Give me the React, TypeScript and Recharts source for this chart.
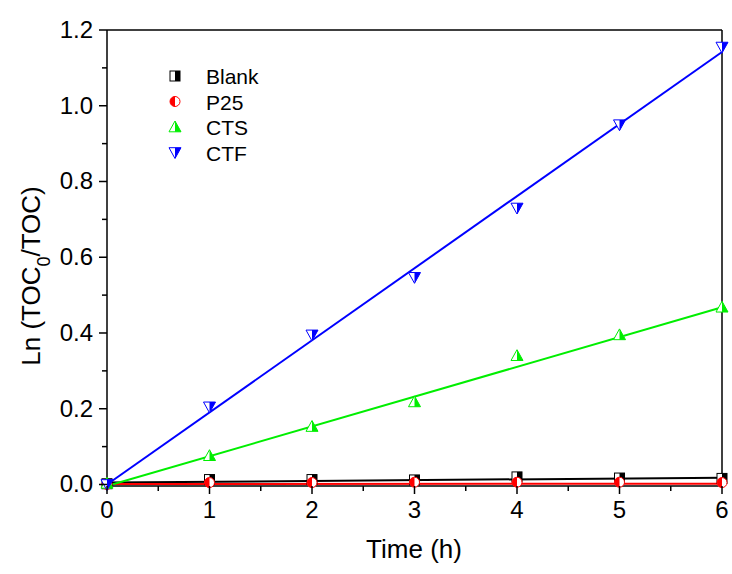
import {
  ComposedChart,
  Line,
  Scatter,
  XAxis,
  YAxis,
  ReferenceLine,
} from "recharts";

const FONT = '"Liberation Sans", Arial, sans-serif';

const time = [0, 1, 2, 3, 4, 5, 6];
const blank = [0.002, 0.013, 0.013, 0.012, 0.02, 0.017, 0.016];
const p25 = [0.0, 0.005, 0.005, 0.006, 0.006, 0.006, 0.005];
const cts = [0.003, 0.076, 0.153, 0.218, 0.34, 0.395, 0.468];
const ctf = [0.0, 0.205, 0.395, 0.547, 0.73, 0.95, 1.155];

// fitted lines, value at t = 0 and t = 6
const fitTime = [0, 6];
const blankFit = [0.005, 0.018];
const p25Fit = [0.001, 0.002];
const ctsFit = [-0.004, 0.468];
const ctfFit = [0.0, 1.142];

const xTicks = [0, 0.5, 1, 1.5, 2, 2.5, 3, 3.5, 4, 4.5, 5, 5.5, 6];
const yTicks = [0, 0.1, 0.2, 0.3, 0.4, 0.5, 0.6, 0.7, 0.8, 0.9, 1.0, 1.1, 1.2];

const toPoints = (xs: number[], ys: number[]) => xs.map((t, i) => ({ t, v: ys[i] }));

const series = [
  { name: "Blank", color: "#000000", kind: "square", points: blank, fit: blankFit },
  { name: "P25", color: "#ff0000", kind: "circle", points: p25, fit: p25Fit },
  { name: "CTS", color: "#00ee00", kind: "up", points: cts, fit: ctsFit },
  { name: "CTF", color: "#0000ff", kind: "down", points: ctf, fit: ctfFit },
];

const Marker = ({ cx, cy, kind, color }: { cx: number; cy: number; kind: string; color: string }) => {
  const s = 5;
  if (kind === "square") {
    return (
      <g>
        <rect x={cx - s} y={cy - s} width={2 * s} height={2 * s} fill="#fff" stroke={color} strokeWidth={1} />
        <rect x={cx} y={cy - s} width={s} height={2 * s} fill={color} />
      </g>
    );
  }
  if (kind === "circle") {
    return (
      <g>
        <circle cx={cx} cy={cy} r={s} fill="#fff" stroke={color} strokeWidth={1} />
        <path d={`M${cx},${cy - s} A${s},${s} 0 0 0 ${cx},${cy + s} Z`} fill={color} />
      </g>
    );
  }
  if (kind === "up") {
    const h = 6;
    return (
      <g>
        <path d={`M${cx},${cy - h} L${cx + h},${cy + h * 0.8} L${cx - h},${cy + h * 0.8} Z`} fill="#fff" stroke={color} strokeWidth={1} />
        <path d={`M${cx},${cy - h} L${cx + h},${cy + h * 0.8} L${cx},${cy + h * 0.8} Z`} fill={color} />
      </g>
    );
  }
  const h = 6;
  return (
    <g>
      <path d={`M${cx - h},${cy - h * 0.8} L${cx + h},${cy - h * 0.8} L${cx},${cy + h} Z`} fill="#fff" stroke={color} strokeWidth={1} />
      <path d={`M${cx},${cy - h * 0.8} L${cx + h},${cy - h * 0.8} L${cx},${cy + h} Z`} fill={color} />
    </g>
  );
};

const XTick = ({ x, y, payload }: any) => {
  const major = Number.isInteger(payload.value);
  return (
    <g>
      <line x1={x} x2={x} y1={y} y2={y + (major ? 8 : 5)} stroke="#000" strokeWidth={1.5} />
      {major && (
        <text x={x} y={y + 32} textAnchor="middle" fontSize={24} fontFamily={FONT} fill="#000">
          {payload.value}
        </text>
      )}
    </g>
  );
};

const YTick = ({ x, y, payload }: any) => {
  const major = Math.round(payload.value * 10) % 2 === 0;
  return (
    <g>
      <line x1={x - (major ? 8 : 5)} x2={x} y1={y} y2={y} stroke="#000" strokeWidth={1.5} />
      {major && (
        <text x={x - 14} y={y + 8} textAnchor="end" fontSize={24} fontFamily={FONT} fill="#000">
          {payload.value.toFixed(1)}
        </text>
      )}
    </g>
  );
};

const LegendBox = () => (
  <g>
    {series.map((s, i) => (
      <g key={s.name}>
        <Marker cx={175} cy={76 + i * 25.5} kind={s.kind} color={s.color} />
        <text x={206} y={84 + i * 25.5} fontSize={21} fontFamily={FONT} fill="#000">
          {s.name}
        </text>
      </g>
    ))}
  </g>
);

export default function App() {
  return (
    <div style={{ position: "absolute", left: 0, top: 0, background: "#fff" }}>
      <ComposedChart width={732} height={574} margin={{ top: 30, right: 10, left: 0, bottom: 0 }}>
        <XAxis
          dataKey="t"
          type="number"
          domain={[0, 6]}
          ticks={xTicks}
          interval={0}
          tickSize={0}
          tickMargin={0}
          tick={<XTick />}
          height={88}
          axisLine={{ stroke: "#000", strokeWidth: 1.5 }}
          allowDuplicatedCategory={false}
        />
        <YAxis
          type="number"
          domain={[0, 1.2]}
          ticks={yTicks}
          interval={0}
          tickSize={0}
          tickMargin={0}
          tick={<YTick />}
          width={107}
          axisLine={{ stroke: "#000", strokeWidth: 1.5 }}
        />
        <ReferenceLine y={1.2} stroke="#000" strokeWidth={1.5} />
        <ReferenceLine x={6} stroke="#000" strokeWidth={1.5} />
        {series.map((s) => (
          <Line
            key={s.name + "-fit"}
            data={toPoints(fitTime, s.fit)}
            dataKey="v"
            stroke={s.color}
            strokeWidth={2}
            dot={false}
            activeDot={false}
            isAnimationActive={false}
            type="linear"
          />
        ))}
        {series.map((s) => (
          <Scatter
            key={s.name}
            name={s.name}
            data={toPoints(time, s.points)}
            dataKey="v"
            isAnimationActive={false}
            shape={(p: any) => <Marker cx={p.cx} cy={p.cy} kind={s.kind} color={s.color} />}
          />
        ))}
        <LegendBox />
        <text x={414} y={558} textAnchor="middle" fontSize={26} fontFamily={FONT} fill="#000">
          Time (h)
        </text>
        <text
          x={0}
          y={0}
          transform="translate(40,276) rotate(-90)"
          textAnchor="middle"
          fontSize={26}
          fontFamily={FONT}
          fill="#000"
        >
          Ln (TOC<tspan baselineShift="sub" fontSize={18}>0</tspan>/TOC)
        </text>
      </ComposedChart>
    </div>
  );
}
